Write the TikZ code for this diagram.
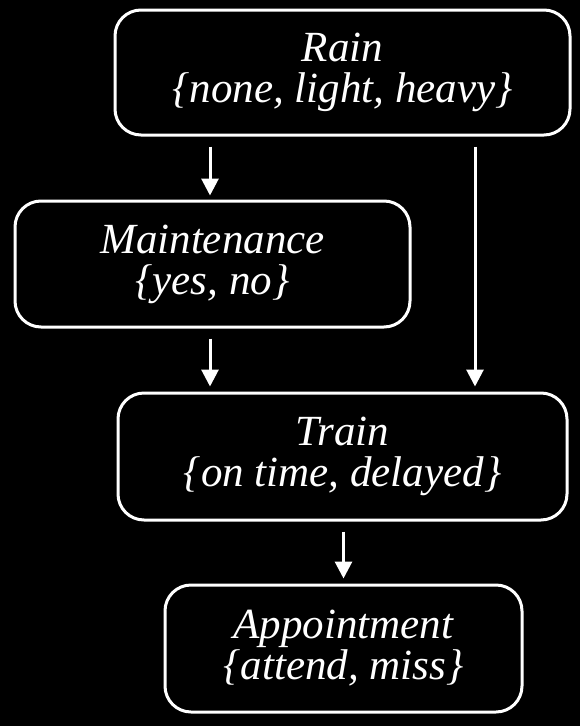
\documentclass[tikz,border=0pt]{standalone}
\usepackage{fontspec}
\setmainfont{Liberation Serif}
\usetikzlibrary{arrows.meta}
\begin{document}
\begin{tikzpicture}[x=1pt,y=-1pt,
  varbox/.style={draw=white, line width=3pt, rounded corners=26pt, fill=black,
    text=white, align=center, inner sep=0pt,
    font=\fontsize{43}{41}\selectfont\itshape},
  arr/.style={draw=white, line width=3pt, -{Triangle[width=17pt,length=17pt]}}]
\fill[black] (0,0) rectangle (580,726);
\useasboundingbox (0,0) rectangle (580,726);
\node[varbox, minimum width=455pt, minimum height=125pt] (rain) at (342.5,72.5) {Rain\\\{none, light, heavy\}};
\node[varbox, minimum width=395pt, minimum height=126pt] (mnt) at (212.5,264) {Maintenance\\\{yes, no\}};
\node[varbox, minimum width=449pt, minimum height=127pt] (train) at (342.5,456.5) {Train\\\{on time, delayed\}};
\node[varbox, minimum width=357pt, minimum height=127pt] (appt) at (343.5,648.5) {Appointment\\\{attend, miss\}};
\coordinate (cl) at (210,0);
\coordinate (cr) at (475,0);
\draw[arr, shorten <=10pt, shorten >=4pt] (rain.south -| cl) -- (mnt.north -| cl);
\draw[arr, shorten <=10pt, shorten >=5pt] (rain.south -| cr) -- (train.north -| cr);
\draw[arr, shorten <=10pt, shorten >=5pt] (mnt.south -| cl) -- (train.north -| cl);
\draw[arr, shorten <=10pt, shorten >=5pt] (train.south -| appt.north) -- (appt.north);
\end{tikzpicture}
\end{document}
